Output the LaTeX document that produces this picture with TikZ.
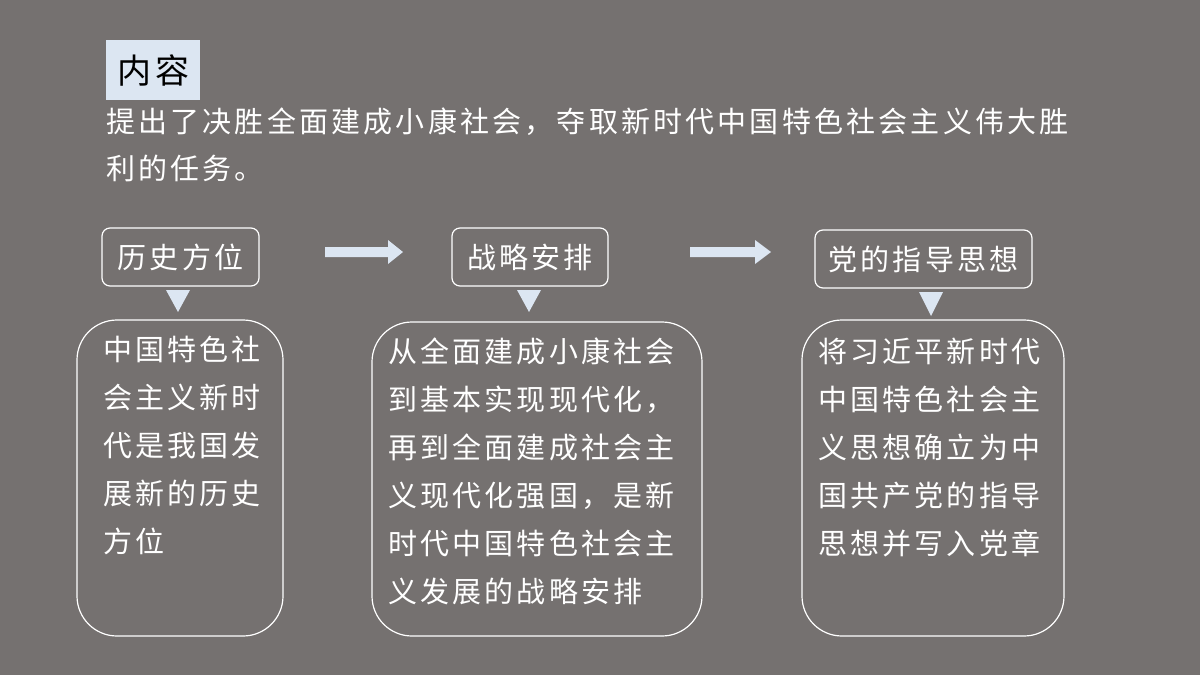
\documentclass[tikz,border=0pt]{standalone}
\usepackage{fontspec}
\setmainfont{Noto Sans CJK SC}[LetterSpace=11]
\usetikzlibrary{shapes.arrows}
\definecolor{bg}{HTML}{757170}
\definecolor{lb}{HTML}{DCE6F2}
\begin{document}
\begin{tikzpicture}[x=1pt,y=-1pt,
  lbl/.style={draw=white,line width=1.2pt,rounded corners=8pt,fill=bg,text=white,font=\fontsize{29}{34}\selectfont,inner sep=0pt},
  big/.style={draw=white,line width=1.2pt,rounded corners=40pt},
  body/.style={anchor=north west,text=white,align=left,font=\fontsize{29}{48}\selectfont,inner sep=0pt},
  tri/.style={fill=lb,draw=none}]
\fill[bg] (0,0) rectangle (1200,675);
\useasboundingbox (0,0) rectangle (1200,675);
\node[fill=lb,anchor=north west,minimum width=94pt,minimum height=60pt,font=\fontsize{34}{38}\selectfont,inner sep=0pt] (title) at (106,40) {内容};
\node[body,font=\fontsize{29}{47}\selectfont] (para) at (106,108) {提出了决胜全面建成小康社会，夺取新时代中国特色社会主义伟大胜\\利的任务。};
% label boxes
\node[lbl,minimum width=157pt,minimum height=58pt] (l1) at (180.5,257) {历史方位};
\node[lbl,minimum width=156pt,minimum height=58pt] (l2) at (530,257) {战略安排};
\node[lbl,minimum width=217pt,minimum height=58pt] (l3) at (923.5,259) {党的指导思想};
% block arrows
\fill[lb] (325,247) -- (388,247) -- (388,240) -- (403,252) -- (388,264) -- (388,257) -- (325,257) -- cycle;
\fill[lb] (690,247) -- (755,247) -- (755,240) -- (771,252) -- (755,264) -- (755,257) -- (690,257) -- cycle;
% triangles
\fill[tri] (166,290) -- (190,290) -- (178,312) -- cycle;
\fill[tri] (517,290) -- (541,290) -- (529,312) -- cycle;
\fill[tri] (919,292) -- (943,292) -- (931,316) -- cycle;
% big boxes
\draw[big] (77,320) rectangle (283,636);
\draw[big] (372,322) rectangle (702,636);
\draw[big] (802,320) rectangle (1064,636);
\node[body] (b1) at (103,336) {中国特色社\\会主义新时\\代是我国发\\展新的历史\\方位};
\node[body] (b2) at (388,338) {从全面建成小康社会\\到基本实现现代化，\\再到全面建成社会主\\义现代化强国，是新\\时代中国特色社会主\\义发展的战略安排};
\node[body] (b3) at (818,338) {将习近平新时代\\中国特色社会主\\义思想确立为中\\国共产党的指导\\思想并写入党章};
\end{tikzpicture}
\end{document}
